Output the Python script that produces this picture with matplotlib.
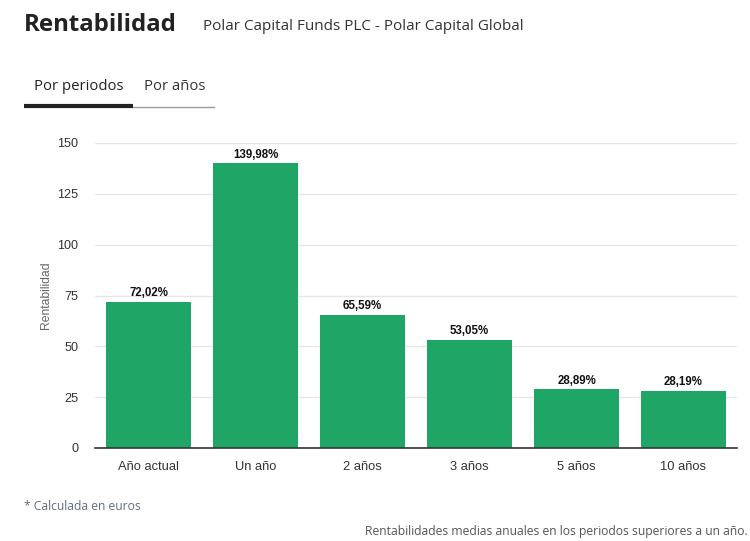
import matplotlib
matplotlib.use("Agg")
import matplotlib.pyplot as plt
from matplotlib.lines import Line2D

categories = ["Año actual", "Un año", "2 años", "3 años", "5 años", "10 años"]
values = [72.02, 139.98, 65.59, 53.05, 28.89, 28.19]
labels = ["72,02%", "139,98%", "65,59%", "53,05%", "28,89%", "28,19%"]
yticks = [0, 25, 50, 75, 100, 125, 150]

W, H = 750, 541
fig = plt.figure(figsize=(W / 100, H / 100), dpi=100)
ax = fig.add_axes([95 / W, (H - 448) / H, 642 / W, 305 / H])

x = list(range(len(categories)))
ax.bar(x, values, width=0.8, color="#1fa667", zorder=3)
for xi, v, lab in zip(x, values, labels):
    ax.text(xi, v + 1.3, lab, ha="center", va="bottom", fontsize=8.3,
            fontweight="bold", family="Liberation Sans", color="#111111", zorder=4)

ax.set_xlim(-0.5, len(categories) - 0.5)
ax.set_ylim(0, 150)
ax.set_yticks(yticks)
ax.set_yticklabels([str(t) for t in yticks], family="Liberation Sans", fontsize=9.1, color="#333333")
ax.set_xticks(x)
ax.set_xticklabels(categories, family="Liberation Sans", fontsize=9.3, color="#333333")
ax.tick_params(axis="both", length=0)
ax.tick_params(axis="y", pad=12)
ax.tick_params(axis="x", pad=9)
ax.grid(axis="y", color="#e6e6e6", linewidth=1, zorder=0)
for s in ["top", "right", "left"]:
    ax.spines[s].set_visible(False)
ax.spines["bottom"].set_color("#333333")
ax.spines["bottom"].set_linewidth(1.2)
ax.spines["bottom"].set_zorder(5)
ax.set_ylabel("Rentabilidad", family="Liberation Sans", fontsize=8.7, color="#666666", labelpad=4)

# Header
fig.text(24 / W, 1 - 25 / H, "Rentabilidad", fontsize=17.3, fontweight="bold",
         family="Open Sans", color="#222222", va="center", ha="left")
fig.text(203 / W, 1 - 26 / H, "Polar Capital Funds PLC - Polar Capital Global", fontsize=11,
         family="Open Sans", color="#333333", va="center", ha="left")
fig.text(34 / W, 1 - 87 / H, "Por periodos", fontsize=10.7, family="Open Sans",
         color="#222222", va="center", ha="left")
fig.text(144 / W, 1 - 87 / H, "Por años", fontsize=10.7, family="Open Sans",
         color="#333333", va="center", ha="left")
fig.add_artist(Line2D([133 / W, 214 / W], [1 - 107 / H, 1 - 107 / H], color="#999999",
                      linewidth=1, transform=fig.transFigure))
fig.add_artist(Line2D([24 / W, 133 / W], [1 - 106 / H, 1 - 106 / H], color="#222222",
                      linewidth=3, transform=fig.transFigure, solid_capstyle="butt"))

# Footer
fig.text(24 / W, 1 - 506 / H, "* Calculada en euros", fontsize=8.7, family="Open Sans",
         color="#5f6f80", va="center", ha="left")
fig.text(748 / W, 1 - 531 / H, "Rentabilidades medias anuales en los periodos superiores a un año.",
         fontsize=8.75, family="Open Sans", color="#555555", va="center", ha="right")

fig.savefig("out.png", dpi=100, facecolor="white")
